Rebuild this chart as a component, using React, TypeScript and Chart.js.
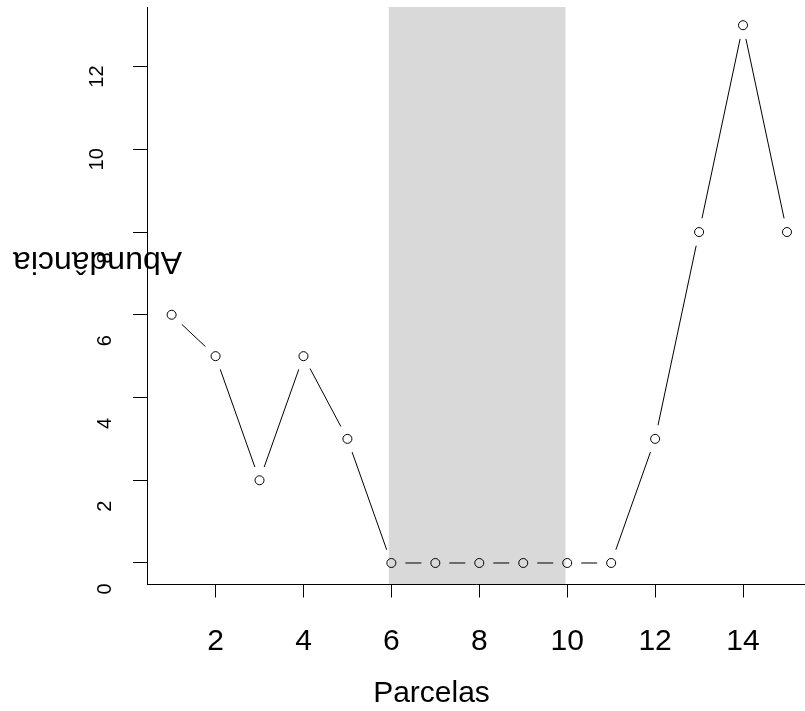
import React, { useEffect, useRef } from "react";
import { Chart, registerables } from "chart.js";

Chart.register(...registerables);

// Plot numbers and their abundance counts
const PARCELAS = [1, 2, 3, 4, 5, 6, 7, 8, 9, 10, 11, 12, 13, 14, 15];
const ABUNDANCIA = [6, 5, 2, 5, 3, 0, 0, 0, 0, 0, 0, 3, 8, 13, 8];

// Axis ticks
const X_TICKS = [2, 4, 6, 8, 10, 12, 14];
const Y_TICKS = [0, 2, 4, 6, 8, 10, 12];

// Shaded interval of plots
const SHADED = [5.94, 9.96];

const X_TITLE = "Parcelas";
const Y_TITLE = "Abundância";

const FONT = "'Liberation Sans', Arial, Helvetica, sans-serif";
const GAP = 14; // space left around each point by the connecting segments

const shadePlugin = {
  id: "shade",
  beforeDraw(chart: any) {
    const { ctx, chartArea, scales } = chart;
    const x0 = scales.x.getPixelForValue(SHADED[0]);
    const x1 = scales.x.getPixelForValue(SHADED[1]);
    ctx.save();
    ctx.fillStyle = "#d9d9d9";
    ctx.fillRect(x0, chartArea.top, x1 - x0, chartArea.bottom - chartArea.top);
    ctx.restore();
  },
};

// Segments between consecutive points, stopping short of each marker
const segmentsPlugin = {
  id: "segments",
  beforeDatasetsDraw(chart: any) {
    const { ctx } = chart;
    const pts = chart.getDatasetMeta(0).data;
    ctx.save();
    ctx.strokeStyle = "#000";
    ctx.lineWidth = 1;
    ctx.beginPath();
    for (let i = 0; i < pts.length - 1; i++) {
      const a = pts[i];
      const b = pts[i + 1];
      const dx = b.x - a.x;
      const dy = b.y - a.y;
      const len = Math.hypot(dx, dy);
      if (len <= 2 * GAP) continue;
      const ux = dx / len;
      const uy = dy / len;
      ctx.moveTo(a.x + ux * GAP, a.y + uy * GAP);
      ctx.lineTo(b.x - ux * GAP, b.y - uy * GAP);
    }
    ctx.stroke();
    ctx.restore();
  },
};

// Vertical-axis tick labels, written bottom-to-top beside their ticks
const yLabelsPlugin = {
  id: "yLabels",
  afterDraw(chart: any) {
    const { ctx, scales } = chart;
    ctx.save();
    ctx.fillStyle = "#000";
    ctx.font = `20px ${FONT}`;
    ctx.textAlign = "center";
    ctx.textBaseline = "middle";
    for (const v of Y_TICKS) {
      const label = String(v);
      const wide = label.length > 1;
      const cy = scales.y.getPixelForValue(v) + (wide ? 10 : 26);
      const cx = wide ? 97 : 105.5;
      ctx.save();
      ctx.translate(cx, cy);
      ctx.rotate(-Math.PI / 2);
      ctx.fillText(label, 0, 0);
      ctx.restore();
    }
    ctx.restore();
  },
};

const titlesPlugin = {
  id: "titles",
  afterDraw(chart: any) {
    const { ctx } = chart;
    ctx.save();
    ctx.fillStyle = "#000";
    ctx.textAlign = "center";
    ctx.textBaseline = "alphabetic";

    ctx.font = `30px ${FONT}`;
    ctx.fillText(X_TITLE, 431.5, 701.5);

    ctx.translate(97.5, 251.5);
    ctx.rotate(Math.PI);
    ctx.font = `32px ${FONT}`;
    ctx.fillText(Y_TITLE, 0, 0);
    ctx.restore();
  },
};

export default function App() {
  const canvasRef = useRef<HTMLCanvasElement | null>(null);

  useEffect(() => {
    document.body.style.margin = "0";
    const canvas = canvasRef.current;
    if (!canvas) return;

    const points = PARCELAS.map((x, i) => ({ x, y: ABUNDANCIA[i] }));

    const chart = new Chart(canvas, {
      type: "line",
      data: {
        datasets: [
          {
            data: points,
            showLine: false,
            pointStyle: "circle",
            pointRadius: 4.5,
            pointHoverRadius: 4.5,
            pointBorderWidth: 1,
            pointBorderColor: "#000",
            pointBackgroundColor: "rgba(0,0,0,0)",
          },
        ],
      },
      options: {
        animation: false,
        responsive: false,
        devicePixelRatio: 1,
        events: [],
        layout: { autoPadding: false, padding: { top: 7, left: 133, right: 0, bottom: 0 } },
        plugins: {
          legend: { display: false },
          tooltip: { enabled: false },
        },
        scales: {
          x: {
            type: "linear",
            position: "bottom",
            min: 0.44,
            max: 15.41,
            afterBuildTicks: (s: any) => {
              s.ticks = X_TICKS.map((v) => ({ value: v }));
            },
            afterFit: (s: any) => {
              s.height = 126.5;
              s.paddingLeft = 0;
              s.paddingRight = 0;
            },
            grid: {
              display: true,
              drawOnChartArea: false,
              drawTicks: true,
              tickLength: 13,
              color: "#000",
              lineWidth: 1,
            },
            border: { display: true, color: "#000", width: 1 },
            ticks: {
              autoSkip: false,
              minRotation: 0,
              maxRotation: 0,
              padding: 26,
              color: "#000",
              font: { size: 30, family: FONT },
              callback: (v: any) => String(v),
            },
          },
          y: {
            type: "linear",
            position: "left",
            min: -0.52,
            max: 13.44,
            afterBuildTicks: (s: any) => {
              s.ticks = Y_TICKS.map((v) => ({ value: v }));
            },
            afterFit: (s: any) => {
              s.width = 14;
              s.paddingTop = 0;
              s.paddingBottom = 0;
            },
            grid: {
              display: true,
              drawOnChartArea: false,
              drawTicks: true,
              tickLength: 14,
              color: "#000",
              lineWidth: 1,
            },
            border: { display: true, color: "#000", width: 1 },
            ticks: { display: false },
          },
        },
      } as any,
      plugins: [shadePlugin, segmentsPlugin, yLabelsPlugin, titlesPlugin],
    });

    return () => chart.destroy();
  }, []);

  return (
    <div style={{ width: 805, height: 711, overflow: "hidden", background: "#fff" }}>
      <canvas ref={canvasRef} width={805} height={711} style={{ display: "block" }} />
    </div>
  );
}
